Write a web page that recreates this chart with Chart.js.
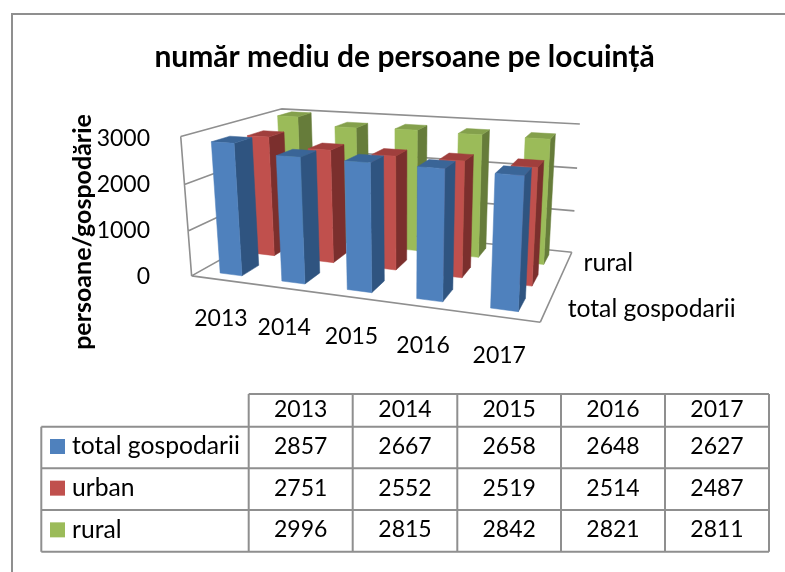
<!DOCTYPE html>
<html><head><meta charset="utf-8">
<style>html,body{margin:0;padding:0;background:#fff;overflow:hidden}canvas{display:block}</style>
<script src="https://cdn.jsdelivr.net/npm/chart.js@4/dist/chart.umd.js"></script>
</head><body><canvas id="c" width="785" height="572"></canvas>
<script>
const categories = ['2013','2014','2015','2016','2017'];
const seriesNames = ['total gospodarii','urban','rural'];
const totalGospodarii = [2857,2667,2658,2648,2627];
const urban = [2751,2552,2519,2514,2487];
const rural = [2996,2815,2842,2821,2811];
const chartTitle = 'număr mediu de persoane pe locuință';
const yAxisTitle = 'persoane/gospodărie';
const depthTickShown = [0,2];
const depthTickDx = {0:21,2:16};
const FONT = 'Lato, Carlito, Calibri, sans-serif';
const GREY = '#8f8f8f';
const faces = [
  {front:'#4f81bd', side:'#2f5480', top:'#3a6597'},
  {front:'#c0504d', side:'#7b2f2d', top:'#a03f3d'},
  {front:'#9bbb59', side:'#667c3a', top:'#84a04c'}
];
/* camera: where the corners of the plot cube fall on the page (u,v,w -> px) */
const cube = [
 [0,0,0,190.7,276.7],[1,0,0,540,321.7],[1,0,1,571.7,253],[0,0,1,287,222],
 [0,1,0,181.7,136.7],[1,1,0,549,160],[1,1,1,580,124.3],[0,1,1,280,109]
];
function solveCamera(){
  const rows=[],rhs=[];
  for(const [u,v,w,x,y] of cube){
    rows.push([1,u,v,w,0,0,0,0,-x*u,-x*v,-x*w]);rhs.push(x);
    rows.push([0,0,0,0,1,u,v,w,-y*u,-y*v,-y*w]);rhs.push(y);
  }
  const n=11,M=[];
  for(let i=0;i<n;i++){M.push(new Array(n+1).fill(0));
    for(let j=0;j<n;j++)rows.forEach(r=>M[i][j]+=r[i]*r[j]);
    rows.forEach((r,k)=>M[i][n]+=r[i]*rhs[k]);}
  for(let i=0;i<n;i++){let p=i;for(let k=i+1;k<n;k++)if(Math.abs(M[k][i])>Math.abs(M[p][i]))p=k;
    [M[i],M[p]]=[M[p],M[i]];
    for(let k=0;k<n;k++)if(k!==i){const f=M[k][i]/M[i][i];for(let j=i;j<=n;j++)M[k][j]-=f*M[i][j];}}
  return M.map((r,i)=>r[n]/r[i]);
}
const cam=solveCamera();
function project(u,v,w){
  const d=1+cam[8]*u+cam[9]*v+cam[10]*w;
  return [(cam[0]+cam[1]*u+cam[2]*v+cam[3]*w)/d,(cam[4]+cam[5]*u+cam[6]*v+cam[7]*w)/d];
}
const depthFill=0.5;
function poly(ctx,pts,fill){ctx.beginPath();pts.forEach((p,i)=>i?ctx.lineTo(p[0],p[1]):ctx.moveTo(p[0],p[1]));ctx.closePath();
  ctx.fillStyle=fill;ctx.strokeStyle=fill;ctx.lineWidth=0.5;ctx.fill();ctx.stroke();}
class Bar3DController extends Chart.BarController{
  draw(){
    const ctx=this._ctx,a=this.chart.chartArea,W=a.right-a.left,H=a.bottom-a.top,nS=this.chart.data.datasets.length;
    const f=faces[this.index];
    const w0=(this.index+0.5-depthFill/2)/nS,w1=(this.index+0.5+depthFill/2)/nS;
    for(const el of this._cachedMeta.data){
      const p=el.getProps(['x','y','base','width']);
      const u0=(p.x-p.width/2-a.left)/W,u1=(p.x+p.width/2-a.left)/W;
      const v0=(a.bottom-p.base)/H,v1=(a.bottom-p.y)/H;
      poly(ctx,[project(u1,v0,w0),project(u1,v1,w0),project(u1,v1,w1),project(u1,v0,w1)],f.side);
      poly(ctx,[project(u0,v1,w0),project(u1,v1,w0),project(u1,v1,w1),project(u0,v1,w1)],f.top);
      poly(ctx,[project(u0,v0,w0),project(u1,v0,w0),project(u1,v1,w0),project(u0,v1,w0)],f.front);
    }
  }
}
Bar3DController.id='bar3d';
Bar3DController.defaults={...Chart.BarController.defaults};
Chart.register(Bar3DController);

function seg(ctx,a,b){ctx.moveTo(a[0],a[1]);ctx.lineTo(b[0],b[1]);}
const cubeFrame={id:'cubeFrame',
  beforeDraw(chart){const ctx=chart.ctx;ctx.save();ctx.fillStyle='#fff';ctx.fillRect(0,0,785,572);
    ctx.strokeStyle=GREY;ctx.lineWidth=2;ctx.beginPath();ctx.moveTo(12,572);ctx.lineTo(12,14);ctx.lineTo(785,14);ctx.stroke();ctx.restore();},
  beforeDatasetsDraw(chart){
    const ctx=chart.ctx,y=chart.scales.y,a=chart.chartArea,H=a.bottom-a.top;
    ctx.save();ctx.strokeStyle=GREY;ctx.lineWidth=1.6;ctx.lineJoin='round';ctx.beginPath();
    y.ticks.forEach(t=>{if(t.value===0)return;const v=(a.bottom-y.getPixelForValue(t.value))/H;
      seg(ctx,project(0,v,0),project(0,v,1));seg(ctx,project(0,v,1),project(1,v,1));});
    seg(ctx,project(0,0,0),project(0,1,0));
    seg(ctx,project(0,0,0),project(1,0,0));seg(ctx,project(1,0,0),project(1,0,1));
    seg(ctx,project(1,0,1),project(0,0,1));seg(ctx,project(0,0,1),project(0,0,0));
    ctx.stroke();ctx.restore();
  },
  afterDraw(chart){
    const ctx=chart.ctx,x=chart.scales.x,a=chart.chartArea,W=a.right-a.left;
    ctx.save();ctx.fillStyle='#000';ctx.textBaseline='middle';
    ctx.font='23px '+FONT;ctx.textAlign='center';
    x.getLabels().forEach((l,i)=>{const p=project((x.getPixelForTick(i)-a.left)/W,0,0);ctx.fillText(l,p[0]-1,p[1]+39);});
    ctx.textAlign='left';ctx.font='24.7px '+FONT;
    depthTickShown.forEach(i=>{const p=project(1,0,(i+0.5)/seriesNames.length);ctx.fillText(seriesNames[i],p[0]+depthTickDx[i],p[1]+1);});
    /* y axis title */
    ctx.save();ctx.translate(83,232);ctx.rotate(-Math.PI/2);ctx.textAlign='center';ctx.font='bold 25px '+FONT;ctx.fillText(yAxisTitle,0,0);ctx.restore();
    /* data table */
    const cols=[248.7,352.7,457.3,561,665,769],rowsY=[394,426.7,468.3,510,551.7],tl=41.3;
    ctx.strokeStyle=GREY;ctx.lineWidth=2;ctx.beginPath();
    cols.forEach(c=>{ctx.moveTo(c,rowsY[0]);ctx.lineTo(c,rowsY[4]);});
    ctx.moveTo(cols[0],rowsY[0]);ctx.lineTo(cols[5],rowsY[0]);
    rowsY.slice(1).forEach(r=>{ctx.moveTo(tl,r);ctx.lineTo(cols[5],r);});
    ctx.moveTo(tl,rowsY[1]);ctx.lineTo(tl,rowsY[4]);ctx.stroke();
    ctx.textAlign='center';ctx.fillStyle='#000';ctx.font='23px '+FONT;
    categories.forEach((l,i)=>ctx.fillText(l,(cols[i]+cols[i+1])/2,rowsY[0]+15.5));
    chart.data.datasets.forEach((ds,r)=>{
      const cy=(rowsY[r+1]+rowsY[r+2])/2-1;
      ds.data.forEach((val,i)=>ctx.fillText(String(val),(cols[i]+cols[i+1])/2,cy));
      ctx.fillStyle=faces[r].front;ctx.fillRect(50,cy-7.5,15,15);ctx.fillStyle='#000';
      ctx.textAlign='left';ctx.font='24.7px '+FONT;ctx.fillText(ds.label,72,cy);ctx.textAlign='center';ctx.font='23px '+FONT;
    });
    ctx.restore();
  }
};
new Chart(document.getElementById('c'),{
  type:'bar3d',
  data:{labels:categories,datasets:[
    {label:seriesNames[0],data:totalGospodarii,backgroundColor:faces[0].front,clip:false},
    {label:seriesNames[1],data:urban,backgroundColor:faces[1].front,clip:false},
    {label:seriesNames[2],data:rural,backgroundColor:faces[2].front,clip:false}]},
  options:{responsive:false,animation:false,events:[],grouped:false,
    barPercentage:0.36,categoryPercentage:1,
    layout:{padding:{left:24,right:0,top:0,bottom:295}},
    plugins:{legend:{display:false},tooltip:{enabled:false},
      title:{display:true,text:chartTitle,color:'#000',font:{family:FONT,size:30,weight:'bold',lineHeight:1.2},padding:{top:39,bottom:64}}},
    scales:{
      x:{type:'category',display:false,offset:true},
      y:{type:'linear',min:0,max:3000,position:'left',
        afterFit(s){s.width=140;},
        border:{display:false},grid:{display:false},
        ticks:{stepSize:1000,color:'#000',padding:6,font:{family:FONT,size:23},callback:v=>String(v)}}
    }
  },
  plugins:[cubeFrame]
});
</script></body></html>
